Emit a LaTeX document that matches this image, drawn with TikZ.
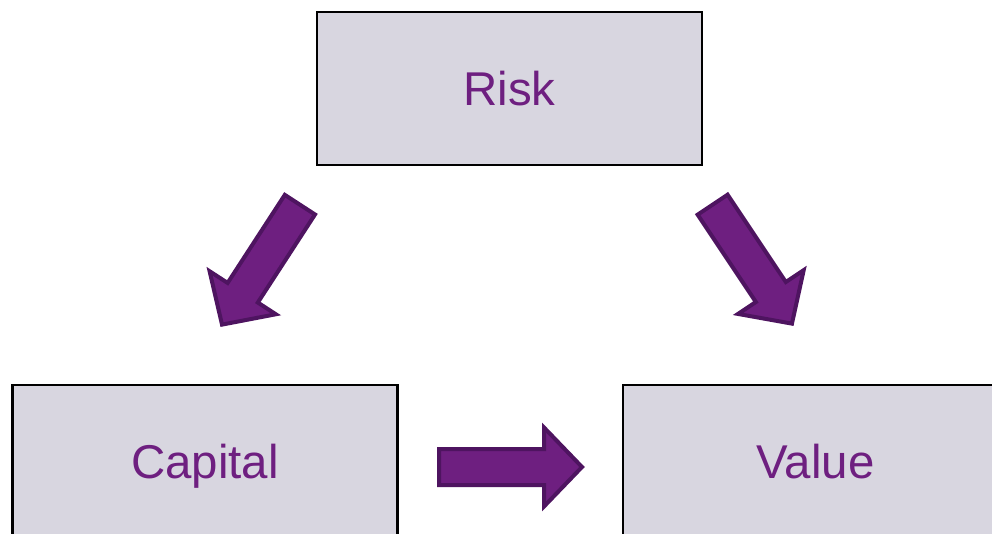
\documentclass[tikz,border=0pt]{standalone}
\usepackage{fontspec}
\setmainfont{Liberation Sans}
\definecolor{boxgray}{HTML}{D8D6E0}
\definecolor{plum}{HTML}{6E1F80}
\definecolor{plumdark}{HTML}{4E1460}
\def\blockarrow(#1)(#2){\begin{scope}[shift={(#1)},rotate=#2]
  \draw[arrowbody] (2,-18) -- (107,-18) -- (107,-39.5) -- (145,0) -- (107,39.5) -- (107,18) -- (2,18) -- cycle;
\end{scope}}

\begin{document}
\begin{tikzpicture}[x=0.02cm,y=-0.02cm,
		box/.style={draw=black, line width=0.05cm, fill=boxgray, minimum width=7.7cm, minimum height=3.06cm, text height=0.68cm, text depth=0pt, text=plum, font=\fontsize{27}{32}\selectfont},
		arrowbody/.style={fill=plum, draw=plumdark, line width=0.08cm, line join=miter}]
				\useasboundingbox (0,0) rectangle (992,534);
				
				\node[box] (risk) at (509.5,88.5) {Risk};
				\node[box] (capital) at (205,461.5) {Capital};
				\node[box] (value) at (815.5,461.5) {Value};
				
				\coordinate (riskcap) at (301,203);
				\coordinate (riskval) at (711.5,203);
				\coordinate (capval) at (437,467);
				
				\blockarrow(riskcap)(-123)
				\blockarrow(riskval)(-56.3)
				\blockarrow(capval)(0)
			\end{tikzpicture}
\end{document}
